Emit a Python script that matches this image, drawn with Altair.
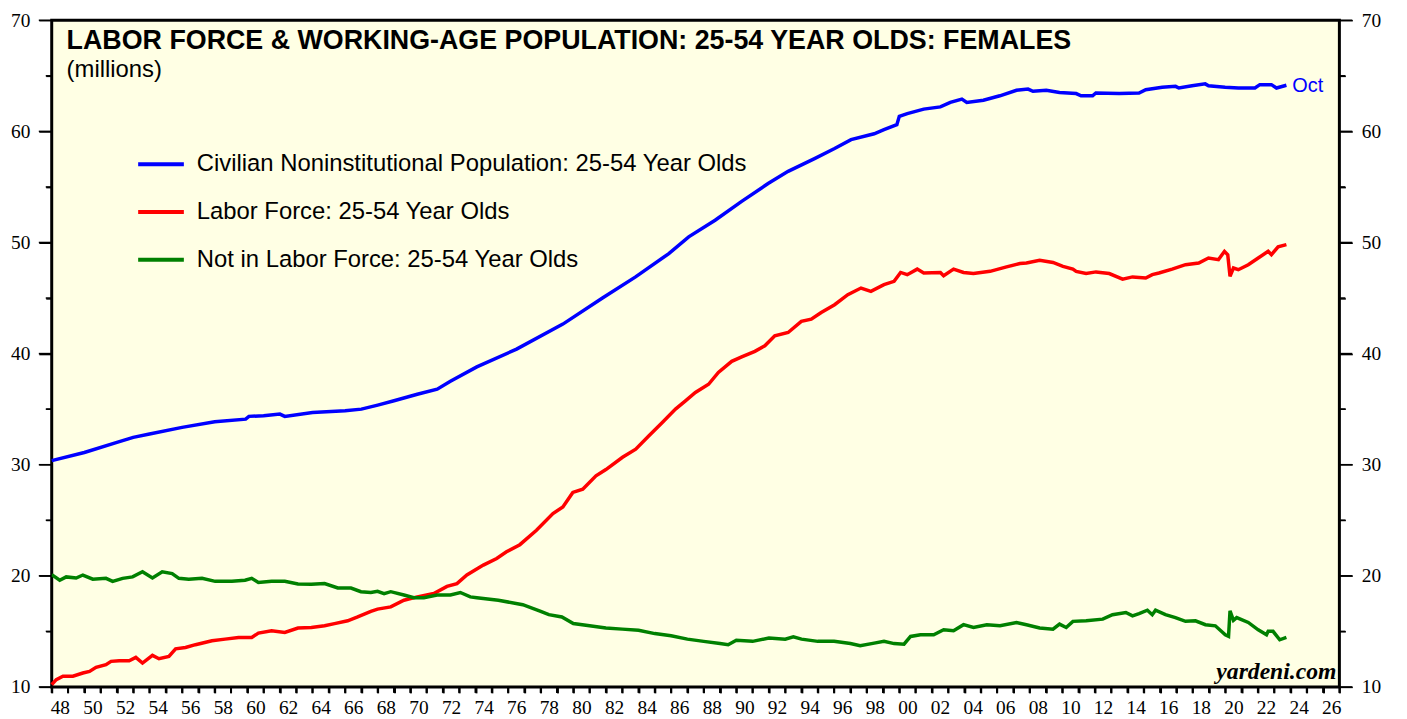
import altair as alt
import pandas as pd

# ---- data ----
pop_years = [1948.0, 1950.0, 1952.0, 1953.0, 1954.0, 1956.0, 1958.0, 1959.9, 1960.1, 1961.0,
             1962.0, 1962.3, 1964.0, 1966.0, 1967.0, 1968.0, 1969.0, 1970.43, 1971.65, 1972.46,
             1974.08, 1976.52, 1979.36, 1981.79, 1983.82, 1985.86, 1987.08, 1988.7, 1990.33, 1991.95,
             1993.18, 1994.8, 1996.03, 1997.04, 1998.46, 1999.06, 1999.85, 2000.0, 2000.49, 2001.5,
             2002.52, 2003.13, 2003.84, 2004.14, 2005.16, 2006.17, 2007.19, 2007.9, 2008.2, 2009.02,
             2009.83, 2010.85, 2011.15, 2011.86, 2012.06, 2013.49, 2014.71, 2015.12, 2016.13, 2016.95,
             2017.15, 2017.96, 2018.77, 2018.97, 2019.99, 2020.8, 2021.82, 2022.12, 2022.83, 2023.14,
             2023.75]
pop_vals = [30.37, 31.1, 32.0, 32.46, 32.76, 33.36, 33.87, 34.1, 34.35, 34.4,
            34.55, 34.35, 34.7, 34.85, 35.0, 35.36, 35.75, 36.34, 36.8, 37.5,
            38.8, 40.4, 42.65, 45.0, 46.9, 49.0, 50.5, 52.0, 53.7, 55.3,
            56.4, 57.55, 58.45, 59.25, 59.78, 60.15, 60.6, 61.35, 61.6, 62.0,
            62.2, 62.6, 62.9, 62.6, 62.8, 63.2, 63.7, 63.8, 63.6, 63.7,
            63.5, 63.4, 63.2, 63.2, 63.45, 63.4, 63.45, 63.75, 63.97, 64.05,
            63.9, 64.1, 64.27, 64.1, 63.97, 63.9, 63.9, 64.2, 64.2, 63.9,
            64.15]

lf_years = [1948.0, 1948.28, 1948.69, 1949.3, 1949.91, 1950.32, 1950.72, 1951.33, 1951.64, 1952.14,
            1952.75, 1953.16, 1953.57, 1954.18, 1954.58, 1955.19, 1955.6, 1956.21, 1956.82, 1957.83,
            1958.64, 1959.46, 1960.27, 1960.68, 1961.49, 1962.3, 1963.11, 1963.93, 1964.74, 1965.35,
            1966.16, 1966.77, 1967.58, 1967.99, 1968.8, 1969.61, 1970.43, 1971.44, 1972.25, 1972.86,
            1973.47, 1974.48, 1975.3, 1975.9, 1976.72, 1977.74, 1978.75, 1979.36, 1979.97, 1980.58,
            1981.39, 1982.0, 1983.02, 1983.83, 1984.64, 1985.46, 1986.27, 1986.88, 1987.49, 1988.3,
            1988.9, 1989.72, 1990.33, 1991.14, 1991.75, 1992.36, 1993.18, 1993.99, 1994.6, 1995.21,
            1996.03, 1996.84, 1997.65, 1998.26, 1999.06, 1999.68, 2000.08, 2000.49, 2001.1, 2001.5,
            2002.52, 2002.72, 2003.33, 2003.94, 2004.55, 2005.57, 2006.58, 2007.4, 2007.8, 2008.61,
            2009.43, 2010.04, 2010.65, 2010.85, 2011.46, 2012.07, 2012.88, 2013.7, 2014.31, 2015.12,
            2015.52, 2015.93, 2016.74, 2017.56, 2018.37, 2018.97, 2019.58, 2019.95, 2020.15, 2020.29,
            2020.5, 2020.8, 2021.41, 2022.02, 2022.63, 2022.83, 2023.24, 2023.75]
lf_vals = [10.2, 10.66, 10.96, 10.96, 11.25, 11.4, 11.76, 12.0, 12.3, 12.36,
           12.36, 12.66, 12.15, 12.84, 12.54, 12.75, 13.43, 13.55, 13.8, 14.15,
           14.3, 14.45, 14.45, 14.84, 15.05, 14.9, 15.3, 15.35, 15.5, 15.7,
           15.95, 16.3, 16.8, 17.0, 17.2, 17.8, 18.1, 18.4, 19.05, 19.3,
           20.07, 20.96, 21.56, 22.16, 22.8, 24.1, 25.6, 26.2, 27.5, 27.8,
           29.0, 29.56, 30.67, 31.4, 32.6, 33.8, 35.0, 35.75, 36.5, 37.24,
           38.3, 39.3, 39.7, 40.2, 40.7, 41.6, 41.9, 42.9, 43.1, 43.7,
           44.4, 45.3, 45.9, 45.6, 46.2, 46.5, 47.3, 47.1, 47.6, 47.25,
           47.3, 47.0, 47.6, 47.3, 47.2, 47.4, 47.8, 48.1, 48.15, 48.4,
           48.2, 47.85, 47.6, 47.4, 47.2, 47.35, 47.2, 46.7, 46.9, 46.8,
           47.1, 47.25, 47.6, 48.0, 48.15, 48.6, 48.45, 49.2, 48.9, 46.95,
           47.7, 47.55, 48.0, 48.6, 49.2, 48.9, 49.6, 49.8]

nilf_years = [1948.0, 1948.49, 1948.89, 1949.5, 1949.91, 1950.52, 1951.33, 1951.74, 1952.35, 1952.96,
              1953.57, 1954.18, 1954.78, 1955.39, 1955.8, 1956.41, 1957.22, 1958.03, 1959.05, 1959.86,
              1960.27, 1960.68, 1961.49, 1962.3, 1963.11, 1963.93, 1964.74, 1965.55, 1966.36, 1966.97,
              1967.58, 1967.99, 1968.39, 1968.8, 1969.61, 1970.22, 1970.83, 1971.64, 1972.46, 1973.07,
              1973.68, 1974.08, 1975.4, 1976.9, 1978.0, 1978.5, 1979.3, 1980.0, 1981.0, 1982.0,
              1983.0, 1984.0, 1985.0, 1986.0, 1987.0, 1988.0, 1989.0, 1989.5, 1990.0, 1991.0,
              1992.0, 1993.0, 1993.5, 1994.0, 1995.0, 1996.0, 1997.0, 1997.6, 1998.46, 1999.06,
              1999.68, 2000.29, 2000.69, 2001.3, 2002.11, 2002.72, 2003.33, 2003.94, 2004.55, 2005.37,
              2006.18, 2007.19, 2007.8, 2008.61, 2009.43, 2009.83, 2010.24, 2010.65, 2011.46, 2012.48,
              2013.08, 2013.9, 2014.31, 2014.71, 2015.22, 2015.52, 2015.72, 2016.33, 2016.94, 2017.56,
              2018.17, 2018.78, 2019.39, 2020.0, 2020.2, 2020.29, 2020.5, 2020.7, 2021.41, 2022.02,
              2022.53, 2022.63, 2022.93, 2023.34, 2023.75]
nilf_vals = [20.1, 19.6, 19.9, 19.8, 20.07, 19.7, 19.77, 19.5, 19.77, 19.9,
             20.36, 19.8, 20.36, 20.2, 19.77, 19.7, 19.77, 19.5, 19.5, 19.6,
             19.77, 19.4, 19.5, 19.5, 19.26, 19.23, 19.3, 18.9, 18.9, 18.57,
             18.5, 18.6, 18.4, 18.57, 18.27, 18.03, 18.03, 18.27, 18.27, 18.5,
             18.1, 18.03, 17.8, 17.4, 16.8, 16.5, 16.3, 15.7, 15.5, 15.3,
             15.2, 15.1, 14.8, 14.6, 14.3, 14.1, 13.9, 13.8, 14.2, 14.1,
             14.4, 14.3, 14.5, 14.3, 14.1, 14.1, 13.9, 13.7, 13.94, 14.1,
             13.9, 13.85, 14.54, 14.7, 14.7, 15.14, 15.05, 15.6, 15.35, 15.6,
             15.5, 15.8, 15.6, 15.3, 15.2, 15.65, 15.35, 15.9, 15.95, 16.1,
             16.5, 16.7, 16.4, 16.6, 16.9, 16.5, 16.9, 16.5, 16.24, 15.9,
             15.95, 15.6, 15.5, 14.7, 14.55, 16.84, 16.0, 16.24, 15.8, 15.14,
             14.7, 15.0, 15.0, 14.24, 14.45]

series_names = ["Civilian Noninstitutional Population: 25-54 Year Olds",
                "Labor Force: 25-54 Year Olds",
                "Not in Labor Force: 25-54 Year Olds"]
series_colors = ["#0000FF", "#FF0000", "#008000"]

title_text = "LABOR FORCE & WORKING-AGE POPULATION: 25-54 YEAR OLDS: FEMALES"
subtitle_text = "(millions)"
last_label = "Oct"
source_text = "yardeni.com"

x_ticks = list(range(1948, 2028))
y_major = list(range(10, 80, 10))
y_minor = list(range(15, 70, 10))
y_ticks = sorted(y_major + y_minor)

# ---- build tables ----
frames = []
for name, ys, vs in zip(series_names, [pop_years, lf_years, nilf_years], [pop_vals, lf_vals, nilf_vals]):
    frames.append(pd.DataFrame({"year": ys, "value": vs, "series": name}))
df = pd.concat(frames, ignore_index=True)
df_last = pd.DataFrame({"year": [pop_years[-1]], "value": [pop_vals[-1]], "label": [last_label]})
df_xt = pd.DataFrame({"year": x_ticks})
df_ymaj = pd.DataFrame({"value": y_major})
df_ymin = pd.DataFrame({"value": y_minor})

W, H = 1296, 671
SANS = "Liberation Sans"
SERIF = "Liberation Serif"

x_scale = alt.Scale(domain=[1948, 2027], nice=False, zero=False)
y_scale = alt.Scale(domain=[10, 70], nice=False, zero=False)

x_axis = alt.Axis(values=x_ticks, ticks=True, tickSize=6, tickWidth=2, tickColor="black",
                  labelExpr="datum.value % 2 === 0 ? substring(toString(datum.value), 2, 4) : ''",
                  labelOffset=8.2, labelFlush=False, labelOverlap=False, labelFont=SERIF,
                  labelFontSize=19.5, labelColor="black", labelPadding=6, domain=False,
                  grid=False, title=None)

tick_cond = {"condition": {"test": "datum.value % 10 === 0", "value": 13}, "value": 6}

def y_axis(orient):
    return alt.Axis(orient=orient, values=y_ticks, ticks=True,
                    labelExpr="datum.value % 10 === 0 ? datum.label : ''",
                    tickSize=tick_cond, tickWidth=1.5, tickColor="black",
                    labelFont=SERIF, labelFontSize=19.5, labelColor="black",
                    labelPadding=9, labelFlush=False, labelOverlap=False,
                    domain=False, grid=False, title=None)

lines = alt.Chart(df).mark_line(strokeWidth=3.5).encode(
    x=alt.X("year:Q", scale=x_scale, axis=x_axis),
    y=alt.Y("value:Q", scale=y_scale, axis=y_axis("left")),
    color=alt.Color("series:N",
                    scale=alt.Scale(domain=series_names, range=series_colors),
                    legend=alt.Legend(orient="none", legendX=85, legendY=120, title=None,
                                      symbolType="stroke", symbolSize=2116, symbolStrokeWidth=4,
                                      labelFont=SANS, labelFontSize=24, labelColor="black",
                                      labelOffset=11, rowPadding=11, labelLimit=800)),
    order=alt.Order("year:Q"),
    detail="series:N",
)

oct_label = alt.Chart(df_last).mark_text(align="left", baseline="middle", dx=6, dy=1,
                                         font=SANS, fontSize=20, color="#0000FF").encode(
    x=alt.X("year:Q", scale=x_scale, axis=x_axis),
    y=alt.Y("value:Q", scale=y_scale, axis=y_axis("right")),
    text="label:N",
)

# explicit tick marks (through the shared scales)
xt_rules = alt.Chart(df_xt).mark_rule(color="black", strokeWidth=2).encode(
    x=alt.X("year:Q", scale=x_scale, axis=x_axis),
    y=alt.value(H), y2=alt.value(H + 6))

def ytick_layer(data, x0, x1):
    return alt.Chart(data).mark_rule(color="black", strokeWidth=1.5).encode(
        y=alt.Y("value:Q", scale=y_scale, axis=None),
        x=alt.value(x0), x2=alt.value(x1))

yt_left_major = ytick_layer(df_ymaj, 0, -13)
yt_left_minor = ytick_layer(df_ymin, 0, -6)
yt_right_major = ytick_layer(df_ymaj, W, W + 13)
yt_right_minor = ytick_layer(df_ymin, W, W + 6)

def note(text, x, y, **kw):
    return alt.Chart(pd.DataFrame({"t": [text]})).mark_text(**kw).encode(
        text="t:N", x=alt.value(x), y=alt.value(y))

title = note(title_text, 15, 29, align="left", baseline="alphabetic", font=SANS,
             fontSize=27, fontWeight="bold", color="black")
subtitle = note(subtitle_text, 15, 57, align="left", baseline="alphabetic", font=SANS,
                fontSize=24, color="black")
source = note(source_text, 1293, 663, align="right", baseline="alphabetic", font=SERIF,
              fontSize=23.8, fontWeight="bold", fontStyle="italic", color="black")

chart = alt.layer(lines, oct_label, xt_rules, yt_left_major, yt_left_minor,
                  yt_right_major, yt_right_minor, title, subtitle, source).resolve_scale(
    y="shared", x="shared"
).resolve_axis(y="independent").properties(
    width=W, height=H,
    autosize=alt.AutoSizeParams(type="none"),
    padding={"left": 44, "top": 10, "right": 60, "bottom": 32},
    background="white",
).configure_view(fill="#FFFFE4", stroke="black", strokeWidth=3)

chart.save("out.html", embed_options={"renderer": "svg", "actions": False})
